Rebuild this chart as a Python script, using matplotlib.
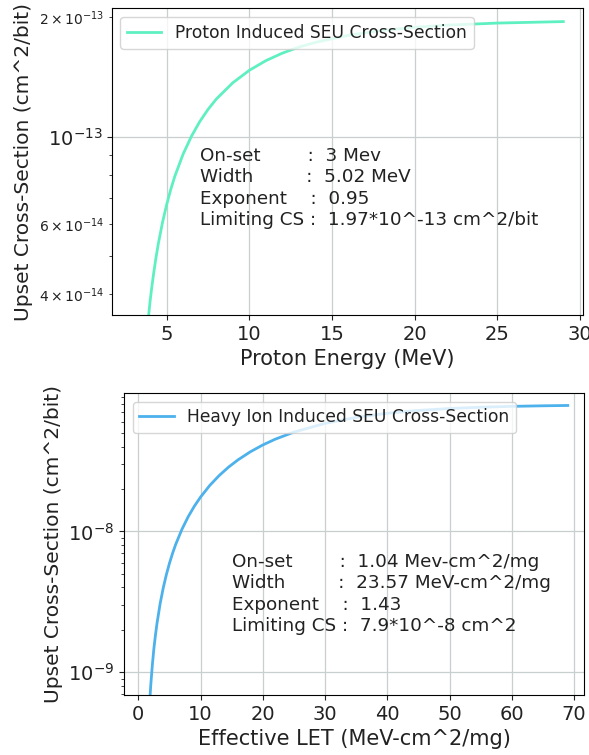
"""
Weibull fits of the SEU cross-section: proton (top) and heavy ion (bottom)
"""

import numpy as np
import matplotlib.pyplot as plt

# Proton induced cross-section, cm^2/bit (values in units of 1e-13)
proton_energy = [3.8, 3.9, 4.0, 4.1, 4.2, 4.35, 4.5, 4.75, 5.0, 5.25, 5.5, 6.0, 6.5,
                 7.0, 7.5, 8.0, 9.0, 10.0, 11.0, 12.0, 13.0, 14.0, 16.0, 18.0,
                 20.0, 22.0, 25.0, 29.0]
proton_cs = [0.316, 0.349, 0.383, 0.415, 0.446, 0.492, 0.536, 0.606, 0.672, 0.735,
             0.794, 0.903, 1.001, 1.090, 1.170, 1.243, 1.367, 1.470, 1.555, 1.625,
             1.683, 1.730, 1.803, 1.854, 1.889, 1.913, 1.936, 1.953]

# Heavy ion induced cross-section, cm^2/bit (values in units of 1e-8)
ion_let = [1.8, 1.9, 2.0, 2.25, 2.5, 2.75, 3.0, 3.5, 4.0, 4.5, 5.0, 5.5, 6.0, 7.0,
           8.0, 9.0, 10.0, 11.5, 13.0, 14.5, 16.0, 18.0, 20.0, 22.0, 25.0, 30.0,
           35.0, 40.0, 45.0, 50.0, 55.0, 60.0, 65.0, 69.0]
ion_cs = [0.058, 0.069, 0.081, 0.112, 0.147, 0.183, 0.222, 0.306, 0.396, 0.492,
          0.593, 0.698, 0.807, 1.032, 1.267, 1.508, 1.752, 2.123, 2.492, 2.857,
          3.213, 3.670, 4.102, 4.508, 5.061, 5.837, 6.436, 6.885, 7.210, 7.440,
          7.600, 7.707, 7.778, 7.820]

let_ticks = [0, 10, 20, 30, 40, 50, 60, 70]

proton_text = ("On-set        :  3 Mev\n"
               "Width         :  5.02 MeV\n"
               "Exponent    :  0.95\n"
               "Limiting CS :  1.97*10^-13 cm^2/bit")
ion_text = ("On-set        :  1.04 Mev-cm^2/mg\n"
            "Width         :  23.57 MeV-cm^2/mg\n"
            "Exponent    :  1.43\n"
            "Limiting CS :  7.9*10^-8 cm^2")

plt.rcParams["text.color"] = "#222222"
plt.rcParams["axes.labelcolor"] = "#222222"
plt.rcParams["xtick.color"] = "#222222"
plt.rcParams["ytick.color"] = "#222222"

fig = plt.figure(figsize=(5.89, 7.55), dpi=100)

# Top panel: proton data
ax1 = fig.add_axes([0.190, 0.583, 0.800, 0.406])
ax1.plot(proton_energy, np.array(proton_cs) * 1e-13, color="#5ff0c2", linewidth=2,
         label="Proton Induced SEU Cross-Section")
ax1.set_yscale("log")
ax1.set_xlim(1.69, 30.2)
ax1.set_ylim(3.54e-14, 2.11e-13)
ax1.grid(True, which="major", color="#c8cfcf", linewidth=0.9)
ax1.tick_params(labelsize=14)
ax1.set_xlabel("Proton Energy (MeV)", fontsize=15)
ax1.set_ylabel("Upset Cross-Section (cm^2/bit)", fontsize=14.5)
ax1.legend(loc="upper left", fontsize=12.3)
ax1.text(7.0, 0.74e-13, proton_text, fontsize=13.2, va="center", linespacing=1.25)

# Bottom panel: heavy ion data
ax2 = fig.add_axes([0.2105, 0.0795, 0.781, 0.400])
ax2.plot(ion_let, np.array(ion_cs) * 1e-8, color="#4db1ec", linewidth=2,
         label="Heavy Ion Induced SEU Cross-Section")
ax2.set_yscale("log")
ax2.set_xlim(-2.3, 71.6)
ax2.set_ylim(6.91e-10, 9.59e-8)
ax2.set_xticks(let_ticks)
ax2.grid(True, which="major", color="#c8cfcf", linewidth=0.9)
ax2.tick_params(labelsize=14)
ax2.set_xlabel("Effective LET (MeV-cm^2/mg)", fontsize=15)
ax2.set_ylabel("Upset Cross-Section (cm^2/bit)", fontsize=14.5)
ax2.legend(loc="upper left", fontsize=12.3)
ax2.text(15.0, 0.36e-8, ion_text, fontsize=13.2, va="center", linespacing=1.25)

plt.savefig("out.png", dpi=100)
